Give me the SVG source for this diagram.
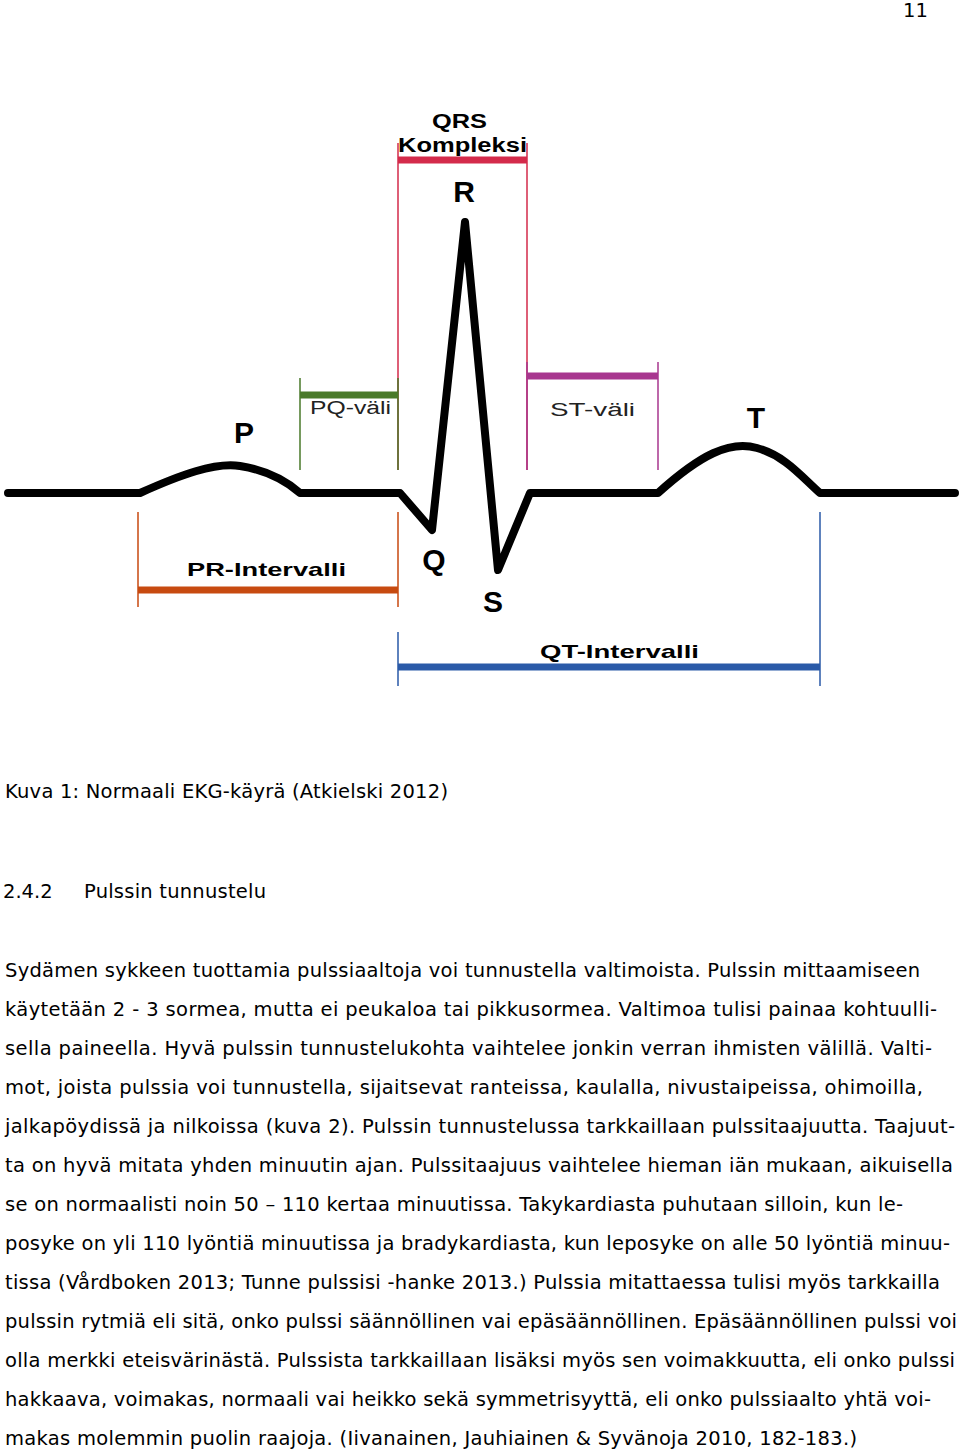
<svg xmlns="http://www.w3.org/2000/svg" width="960" height="1455" viewBox="0 0 960 1455">
<style>
.b{font-family:"Liberation Sans",Arial,sans-serif;font-weight:bold;fill:#000}
.n{font-family:"Liberation Sans",Arial,sans-serif;fill:#222}
.t{font-family:"DejaVu Sans","Liberation Sans",sans-serif;font-size:19.5px;fill:#000}
</style>
<rect width="960" height="1455" fill="#fff"/>
<text class="t" x="903" y="17">11</text>
<g id="intervals" fill="none">
<g id="qrs" stroke="#d42b4b"><path d="M398 143V470M527 143V470" stroke-width="1.5"/><path d="M398 160H527" stroke-width="7"/></g>
<g id="pq" stroke="#4a7a2a"><path d="M300 378V470M398 378V470" stroke-width="1.5"/><path d="M300 395H398" stroke-width="7"/></g>
<g id="st" stroke="#a8378f"><path d="M527 362V470M658 362V470" stroke-width="1.5"/><path d="M527 376H658" stroke-width="7"/></g>
<g id="pr" stroke="#c74a10"><path d="M138 512V607M398 512V607" stroke-width="1.5"/><path d="M138 590H398" stroke-width="7"/></g>
<g id="qt" stroke="#2a5aa8"><path d="M398 632V686M820 512V686" stroke-width="1.5"/><path d="M398 667H820" stroke-width="7"/></g>
</g>
<g id="wave"><path d="M8 493H140C180 475 215 462 240 466C265 470 285 480 300 493H400L432 530L465 222L498 570L530 493H658C700 455 730 440 757 448C785 456 800 475 820 493H955" fill="none" stroke="#000" stroke-width="8" stroke-linejoin="round" stroke-linecap="round"/></g>
<g id="labels">
<text class="b" x="432" y="128" font-size="20" textLength="55" lengthAdjust="spacingAndGlyphs">QRS</text>
<text class="b" x="398" y="152" font-size="20" textLength="129" lengthAdjust="spacingAndGlyphs">Kompleksi</text>
<text class="b" x="464" y="202" font-size="30" text-anchor="middle">R</text>
<text class="b" x="244" y="443" font-size="30" text-anchor="middle">P</text>
<text class="b" x="756" y="428" font-size="30" text-anchor="middle">T</text>
<text class="b" x="434" y="570" font-size="30" text-anchor="middle">Q</text>
<text class="b" x="493" y="612" font-size="30" text-anchor="middle">S</text>
<text class="n" x="310" y="414" font-size="18" textLength="81" lengthAdjust="spacingAndGlyphs">PQ-väli</text>
<text class="n" x="550" y="416" font-size="18" textLength="85" lengthAdjust="spacingAndGlyphs">ST-väli</text>
<text class="b" x="187" y="576" font-size="19" textLength="159" lengthAdjust="spacingAndGlyphs">PR-Intervalli</text>
<text class="b" x="540" y="658" font-size="19" textLength="159" lengthAdjust="spacingAndGlyphs">QT-Intervalli</text>
</g>
<g id="body">
<text class="t" x="5" y="798" textLength="443">Kuva 1: Normaali EKG-käyrä (Atkielski 2012)</text>
<text class="t" x="3" y="898">2.4.2</text>
<text class="t" x="84" y="898" textLength="182">Pulssin tunnustelu</text>
<text class="t" x="5" y="977" textLength="915">Sydämen sykkeen tuottamia pulssiaaltoja voi tunnustella valtimoista. Pulssin mittaamiseen</text>
<text class="t" x="5" y="1016" textLength="932">käytetään 2 - 3 sormea, mutta ei peukaloa tai pikkusormea. Valtimoa tulisi painaa kohtuulli-</text>
<text class="t" x="5" y="1055" textLength="927">sella paineella. Hyvä pulssin tunnustelukohta vaihtelee jonkin verran ihmisten välillä. Valti-</text>
<text class="t" x="5" y="1094" textLength="918">mot, joista pulssia voi tunnustella, sijaitsevat ranteissa, kaulalla, nivustaipeissa, ohimoilla,</text>
<text class="t" x="5" y="1133" textLength="950">jalkapöydissä ja nilkoissa (kuva 2). Pulssin tunnustelussa tarkkaillaan pulssitaajuutta. Taajuut-</text>
<text class="t" x="5" y="1172" textLength="948">ta on hyvä mitata yhden minuutin ajan. Pulssitaajuus vaihtelee hieman iän mukaan, aikuisella</text>
<text class="t" x="5" y="1211" textLength="898">se on normaalisti noin 50 – 110 kertaa minuutissa. Takykardiasta puhutaan silloin, kun le-</text>
<text class="t" x="5" y="1250" textLength="945">posyke on yli 110 lyöntiä minuutissa ja bradykardiasta, kun leposyke on alle 50 lyöntiä minuu-</text>
<text class="t" x="5" y="1289" textLength="935">tissa (Vårdboken 2013; Tunne pulssisi -hanke 2013.) Pulssia mitattaessa tulisi myös tarkkailla</text>
<text class="t" x="5" y="1328" textLength="952">pulssin rytmiä eli sitä, onko pulssi säännöllinen vai epäsäännöllinen. Epäsäännöllinen pulssi voi</text>
<text class="t" x="5" y="1367" textLength="950">olla merkki eteisvärinästä. Pulssista tarkkaillaan lisäksi myös sen voimakkuutta, eli onko pulssi</text>
<text class="t" x="5" y="1406" textLength="926">hakkaava, voimakas, normaali vai heikko sekä symmetrisyyttä, eli onko pulssiaalto yhtä voi-</text>
<text class="t" x="5" y="1445" textLength="852">makas molemmin puolin raajoja. (Iivanainen, Jauhiainen &amp; Syvänoja 2010, 182-183.)</text>
</g>
</svg>
